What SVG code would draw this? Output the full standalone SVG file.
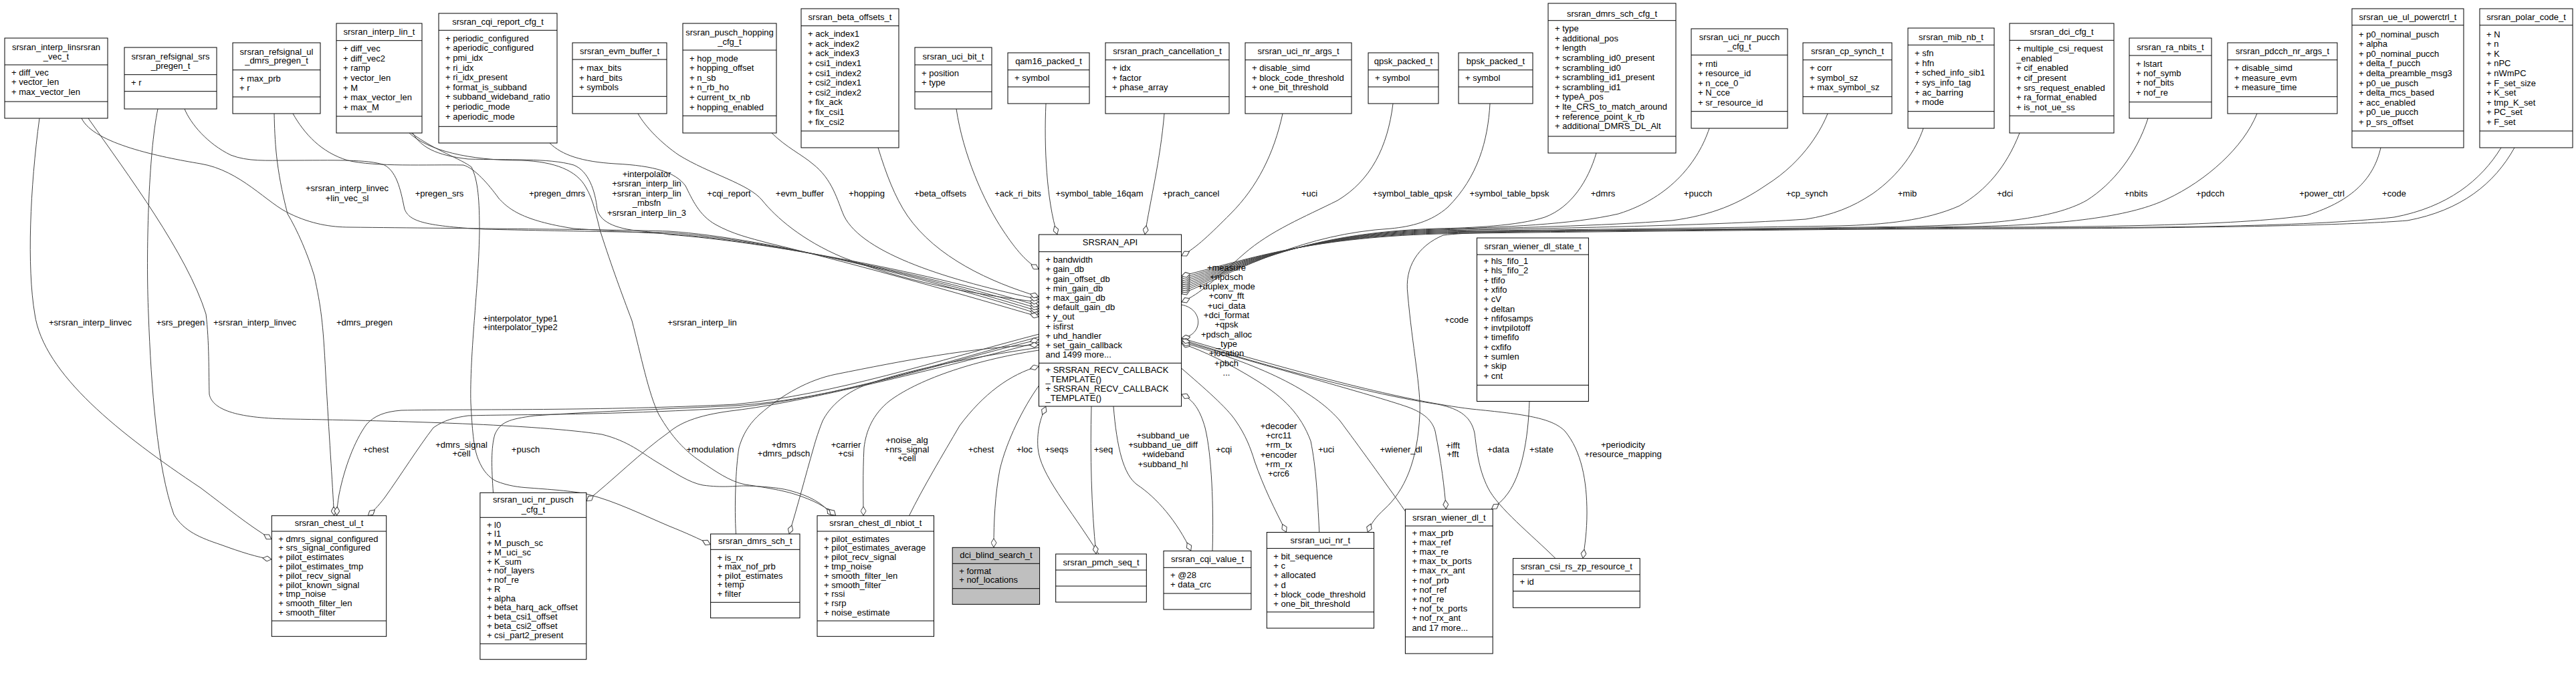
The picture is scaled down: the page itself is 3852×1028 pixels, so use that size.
<svg xmlns="http://www.w3.org/2000/svg" width="3852" height="1028" viewBox="0 0 3852 1028">
<defs>
<style>
text{font-family:"Liberation Sans",Arial,Helvetica,sans-serif;font-size:13px;fill:#000}
.c{text-anchor:middle}
.n rect{fill:#fff;stroke:#000;stroke-width:1}
.n path{fill:none;stroke:#000;stroke-width:1}
#dci_blind_search_t rect{fill:#bfbfbf}
#connectors path{fill:none;stroke:#404040;stroke-width:1}
</style>
<marker id="d" viewBox="0 0 14 9" refX="14" refY="4.5" markerWidth="14" markerHeight="9" markerUnits="userSpaceOnUse" orient="auto"><path d="M0.5,4.5L7,0.5L13.5,4.5L7,8.5Z" fill="#fff" stroke="#404040"/></marker>
</defs>
<rect x="0" y="0" width="3852" height="1028" fill="#fff"/>

<g id="connectors" marker-end="url(#d)">
<path d="M122,177 C140,215 240,235 300,245 C360,255 400,305 434,320 C465,335 495,340 523,340 C700,342 900,343 1000,346 C1150,356 1400,420 1553.5,470"/>
<path d="M276,163 C285,185 310,215 345,232 C370,242 400,240 430,240 C500,240 550,238 575,247 C595,258 600,290 605,313 C612,330 630,338 724,343 C850,346 930,347 1000,348 C1150,358 1400,417 1553.5,466"/>
<path d="M438,170 C455,200 480,228 520,240 C560,250 640,246 693,247 C710,252 730,275 746,297 C760,312 780,330 858,342 C920,346 960,348 1000,350 C1150,360 1400,414 1553.5,462"/>
<path d="M617,199 C630,220 650,232 700,238 C760,240 820,236 858,247 C880,256 890,285 893,313 C897,330 915,342 960,346 C985,348 995,350 1000,351 C1150,362 1400,410 1553.5,458"/>
<path d="M822,214 C840,232 870,242 920,245 C980,248 1010,258 1025,278 C1035,298 1045,322 1070,336 C1095,350 1120,356 1150,364 C1300,400 1450,444 1553.5,474"/>
<path d="M954,170 C965,190 990,215 1015,232 C1060,260 1120,275 1140,300 C1160,325 1200,360 1260,385 C1350,420 1450,440 1553.5,452"/>
<path d="M1154,199 C1175,220 1200,232 1215,245 C1245,268 1252,300 1262,323 C1290,380 1420,420 1553.5,448"/>
<path d="M1313,221 C1325,260 1338,295 1357,323 C1400,385 1480,422 1553.5,444"/>
<path d="M1430,163 C1440,230 1470,300 1500,345 C1520,375 1535,392 1553.5,403"/>
<path d="M1564,155 C1561,220 1565,300 1581,351"/>
<path d="M1741,170 C1735,240 1720,300 1712,351"/>
<path d="M1918,170 C1905,230 1880,280 1840,320 C1810,350 1790,370 1766.6,383"/>
<path d="M2083,155 C2075,220 2050,270 2000,300 C1950,325 1900,345 1860,380 C1820,415 1795,440 1766.6,452"/>
<path d="M2228,155 C2225,210 2210,265 2165,310 C2140,332 2110,339 2080,342 C1950,350 1860,400 1766.6,440"/>
<path d="M2387,229 C2375,270 2350,310 2310,325 C2270,338 2200,341 2150,342 C1950,348 1860,398 1766.6,437"/>
<path d="M2556,192 C2540,240 2500,295 2420,320 C2350,336 2250,340 2150,343 C1950,349 1860,397 1766.6,434"/>
<path d="M2733,170 C2725,190 2700,240 2641,277 C2600,305 2560,322 2500,330 C2400,338 2250,341 2150,344 C1950,350 1860,396 1766.6,431"/>
<path d="M2876,192 C2865,225 2840,262 2800,290 C2770,310 2740,322 2700,328 C2550,338 2300,342 2150,345 C1950,351 1860,395 1766.6,428"/>
<path d="M3020,199 C3000,250 2970,285 2930,308 C2880,330 2820,336 2750,338 C2500,342 2300,344 2150,346 C1950,352 1860,394 1766.6,425"/>
<path d="M3212,177 C3195,230 3160,275 3120,300 C3070,328 2980,336 2850,339 C2600,343 2300,345 2150,347 C1950,353 1860,393 1766.6,422"/>
<path d="M3375,170 C3355,220 3300,270 3240,298 C3190,322 3100,336 2950,339 C2650,343 2300,345 2150,348 C1950,354 1860,392 1766.6,419"/>
<path d="M3560,221 C3550,265 3520,300 3450,322 C3350,338 3100,340 2950,340 C2650,344 2300,346 2150,349 C1950,355 1860,391 1766.6,416"/>
<path d="M3740,221 C3710,270 3660,310 3580,325 C3450,340 3200,341 2950,341 C2650,345 2300,347 2150,350 C1950,356 1860,390 1766.6,413"/>
<path d="M3760,221 C3730,275 3680,315 3600,330 C3450,342 3000,343 2700,343 C2450,344 2220,344 2158,352 C2120,368 2100,400 2105,440 C2112,520 2125,580 2123,620 C2120,690 2100,735 2070,762 C2058,773 2050,783 2045,796.5"/>
<path d="M1766.6,456 C1800,462 1800,502 1766.6,506"/>
<path d="M1553.5,577 C1530,610 1505,660 1495,703 C1488,740 1486,780 1486,819.3"/>
<path d="M1643,829 C1600,760 1555,710 1552,670 C1550,640 1558,622 1564,608"/>
<path d="M1632,608 C1630,680 1632,760 1639,829"/>
<path d="M1665,608 C1670,670 1680,710 1700,725 C1730,745 1760,780 1781,824.4"/>
<path d="M1813,824.4 C1815,760 1812,680 1802,640 C1795,615 1785,598 1766.6,590"/>
<path d="M1766.6,551 C1800,580 1835,610 1848,630 C1862,650 1870,670 1876,690 C1890,730 1905,760 1923.7,796.5"/>
<path d="M1972.8,796.5 C1970,740 1968,700 1960,660 C1945,620 1920,595 1880,570 C1840,545 1800,525 1766.6,514"/>
<path d="M2101.4,765 C2070,720 2030,665 2004,630 C1970,590 1900,550 1766.6,512"/>
<path d="M1766.6,510 C1900,550 2050,590 2105,609 C2130,618 2142,630 2146,645 C2155,690 2160,730 2162.4,762"/>
<path d="M2326,835.6 C2290,800 2240,760 2225,730 C2210,700 2208,670 2205,648 C2200,625 2185,612 2150,605 C2050,590 1900,550 1766.6,508"/>
<path d="M2287,600.5 C2285,660 2275,710 2255,738 C2248,748 2240,755 2230,762"/>
<path d="M1766.6,506 C1950,560 2100,600 2200,612 C2280,620 2320,625 2340,645 C2365,675 2373,720 2373,767 C2373,795 2370,815 2367,835.6"/>
<path d="M59,177 C45,280 40,400 52,470 C65,560 180,650 300,730 C340,760 370,785 406.3,807"/>
<path d="M236,163 C222,230 218,380 222,470 C226,580 235,700 260,770 C275,795 300,805 330,815 C360,826 385,834 406.3,837"/>
<path d="M410,170 C411,210 412,250 430,320 C445,345 460,380 470,413 C480,460 483,480 487,560 C492,650 497,720 499.6,771.7"/>
<path d="M132,177 C190,260 280,380 308,470 C313,510 312,560 313,590 C318,615 360,626 434,627 C600,630 800,635 900,650 C940,660 960,678 980,690 C1010,708 1030,722 1051,726 C1080,730 1100,727 1114,727 C1150,728 1170,731 1181,734 C1210,742 1230,752 1245,771.7"/>
<path d="M612,199 C640,225 700,240 780,240 C830,242 862,255 876,280 C888,300 892,325 898,347 C915,400 930,440 945,480 C958,530 970,590 985,620 C1005,655 1025,675 1047,690 C1070,705 1090,720 1114,725 C1150,730 1175,735 1190,740 C1215,748 1235,758 1250,771.7"/>
<path d="M615,199 C650,225 690,238 705,250 C715,270 717,300 717,347 C716,400 712,440 710,470 C706,520 703,570 704,603 C706,640 708,670 715,687 C722,705 732,715 742,720 C760,727 775,729 791,730 C830,733 860,735 880,740 C920,750 960,770 1000,787 C1025,797 1045,806 1062.6,815"/>
<path d="M1553.5,500 C1400,540 1250,590 1100,605 C900,615 700,612 600,614 C575,616 560,622 548,635 C530,660 515,700 507,740 C505,752 504,760 503.5,771.7"/>
<path d="M1553.5,504 C1400,545 1250,595 1100,610 C900,622 760,620 700,622 C680,625 665,628 648,640 C625,670 600,710 575,745 C565,758 558,765 550,771.7"/>
<path d="M737.5,737.3 C735,700 734,670 740,650 C748,632 760,627 800,622 C900,615 1000,612 1100,607 C1250,597 1400,545 1553.5,508"/>
<path d="M1553.5,512 C1400,552 1200,602 1100,614 C1050,620 1020,630 1000,647 C960,675 915,720 876.8,750"/>
<path d="M1100.5,799 C1098,760 1100,700 1105,670 C1112,645 1125,630 1136,620 C1170,590 1210,568 1250,560 C1350,540 1450,520 1553.5,516"/>
<path d="M1553.5,520 C1450,535 1350,555 1292,577 C1260,590 1240,610 1230,630 C1222,650 1218,665 1216,672 C1205,710 1192,760 1180,799"/>
<path d="M1553.5,524 C1450,540 1370,570 1330,600 C1305,620 1295,645 1292,670 C1290,710 1291,740 1291,771.7"/>
<path d="M1359.5,771.7 C1380,730 1410,680 1435,637 C1470,590 1510,560 1553.5,548"/>
</g>

<g id="edge-labels" class="c">
<text x="519" y="286">+srsran_interp_linvec<tspan x="519" dy="15">+lin_vec_sl</tspan></text>
<text x="657" y="293.5">+pregen_srs</text>
<text x="833" y="293.5">+pregen_dmrs</text>
<text x="967" y="264.5">+interpolator<tspan x="967" dy="14.5">+srsran_interp_lin</tspan><tspan x="967" dy="14.5">+srsran_interp_lin</tspan><tspan x="967" dy="14.5">_mbsfn</tspan><tspan x="967" dy="14.5">+srsran_interp_lin_3</tspan></text>
<text x="1090" y="293.5">+cqi_report</text>
<text x="1196" y="293.5">+evm_buffer</text>
<text x="1296" y="293.5">+hopping</text>
<text x="1406" y="293.5">+beta_offsets</text>
<text x="1522" y="293.5">+ack_ri_bits</text>
<text x="1644" y="293.5">+symbol_table_16qam</text>
<text x="1781" y="293.5">+prach_cancel</text>
<text x="1958" y="293.5">+uci</text>
<text x="2112" y="293.5">+symbol_table_qpsk</text>
<text x="2257" y="293.5">+symbol_table_bpsk</text>
<text x="2397" y="293.5">+dmrs</text>
<text x="2539" y="293.5">+pucch</text>
<text x="2702" y="293.5">+cp_synch</text>
<text x="2852" y="293.5">+mib</text>
<text x="2998" y="293.5">+dci</text>
<text x="3194" y="293.5">+nbits</text>
<text x="3305" y="293.5">+pdcch</text>
<text x="3472" y="293.5">+power_ctrl</text>
<text x="3580" y="293.5">+code</text>
<text x="1834" y="404.5">+measure<tspan x="1834" dy="14.3">+npdsch</tspan><tspan x="1834" dy="14.3">+duplex_mode</tspan><tspan x="1834" dy="14.3">+conv_fft</tspan><tspan x="1834" dy="14.3">+uci_data</tspan><tspan x="1834" dy="14.3">+dci_format</tspan><tspan x="1834" dy="14.3">+qpsk</tspan><tspan x="1834" dy="14.3">+pdsch_alloc</tspan><tspan x="1834" dy="14.3">_type</tspan><tspan x="1834" dy="14.3">+location</tspan><tspan x="1834" dy="14.3">+pbch</tspan><tspan x="1834" dy="14.3">...</tspan></text>
<text x="2178" y="482.5">+code</text>
<text x="135" y="487">+srsran_interp_linvec</text>
<text x="270" y="487">+srs_pregen</text>
<text x="381" y="487">+srsran_interp_linvec</text>
<text x="545" y="487">+dmrs_pregen</text>
<text x="778" y="481">+interpolator_type1<tspan x="778" dy="13">+interpolator_type2</tspan></text>
<text x="1050" y="487">+srsran_interp_lin</text>
<text x="562" y="676.5">+chest</text>
<text x="690" y="670">+dmrs_signal<tspan x="690" dy="13.4">+cell</tspan></text>
<text x="786" y="676.5">+pusch</text>
<text x="1062" y="676.5">+modulation</text>
<text x="1172" y="670">+dmrs<tspan x="1172" dy="13.4">+dmrs_pdsch</tspan></text>
<text x="1265" y="670">+carrier<tspan x="1265" dy="13.4">+csi</tspan></text>
<text x="1356" y="663">+noise_alg<tspan x="1356" dy="13.7">+nrs_signal</tspan><tspan x="1356" dy="13.7">+cell</tspan></text>
<text x="1467" y="676.5">+chest</text>
<text x="1532" y="676.5">+loc</text>
<text x="1580" y="676.5">+seqs</text>
<text x="1650" y="676.5">+seq</text>
<text x="1739" y="656">+subband_ue<tspan x="1739" dy="14.2">+subband_ue_diff</tspan><tspan x="1739" dy="14.2">+wideband</tspan><tspan x="1739" dy="14.2">+subband_hl</tspan></text>
<text x="1830" y="676.5">+cqi</text>
<text x="1912" y="642">+decoder<tspan x="1912" dy="14.2">+crc11</tspan><tspan x="1912" dy="14.2">+rm_tx</tspan><tspan x="1912" dy="14.2">+encoder</tspan><tspan x="1912" dy="14.2">+rm_rx</tspan><tspan x="1912" dy="14.2">+crc6</tspan></text>
<text x="1983" y="676.5">+uci</text>
<text x="2095" y="676.5">+wiener_dl</text>
<text x="2172.5" y="670.5">+ifft<tspan x="2172.5" dy="13.5">+fft</tspan></text>
<text x="2240.5" y="676.5">+data</text>
<text x="2305" y="676.5">+state</text>
<text x="2427" y="670">+periodicity<tspan x="2427" dy="14">+resource_mapping</tspan></text>
</g>

<g id="srsran_interp_linsrsran_vec_t" class="n"><rect x="7" y="57" width="154" height="120"/><path d="M7 97H161M7 152H161"/>
<text class="c" x="84" y="75.2">srsran_interp_linsrsran<tspan x="84" dy="13.6">_vec_t</tspan></text>
<text x="17" y="112.8">+ diff_vec<tspan x="17" dy="14.6">+ vector_len</tspan><tspan x="17" dy="14.6">+ max_vector_len</tspan></text></g>

<g id="srsran_refsignal_srs_pregen_t" class="n"><rect x="186" y="71" width="138" height="92"/><path d="M186 111.7H324M186 136.7H324"/>
<text class="c" x="255" y="88.8">srsran_refsignal_srs<tspan x="255" dy="14.4">_pregen_t</tspan></text>
<text x="196" y="127.8">+ r</text></g>

<g id="srsran_refsignal_ul_dmrs_pregen_t" class="n"><rect x="348" y="64" width="131" height="106"/><path d="M348 104.7H479M348 145H479"/>
<text class="c" x="413.5" y="81.8">srsran_refsignal_ul<tspan x="413.5" dy="13.4">_dmrs_pregen_t</tspan></text>
<text x="358" y="121.8">+ max_prb<tspan x="358" dy="13.7">+ r</tspan></text></g>

<g id="srsran_interp_lin_t" class="n"><rect x="503" y="35" width="128" height="164"/><path d="M503 60.7H631M503 174H631"/>
<text class="c" x="567" y="51.5">srsran_interp_lin_t</text>
<text x="513" y="77.2">+ diff_vec<tspan x="513" dy="14.6">+ diff_vec2</tspan><tspan x="513" dy="14.6">+ ramp</tspan><tspan x="513" dy="14.6">+ vector_len</tspan><tspan x="513" dy="14.6">+ M</tspan><tspan x="513" dy="14.6">+ max_vector_len</tspan><tspan x="513" dy="14.6">+ max_M</tspan></text></g>

<g id="srsran_cqi_report_cfg_t" class="n"><rect x="656" y="20" width="177" height="194"/><path d="M656 45.3H833M656 189.3H833"/>
<text class="c" x="744.5" y="37.2">srsran_cqi_report_cfg_t</text>
<text x="666" y="61.8">+ periodic_configured<tspan x="666" dy="14.6">+ aperiodic_configured</tspan><tspan x="666" dy="14.6">+ pmi_idx</tspan><tspan x="666" dy="14.6">+ ri_idx</tspan><tspan x="666" dy="14.6">+ ri_idx_present</tspan><tspan x="666" dy="14.6">+ format_is_subband</tspan><tspan x="666" dy="14.6">+ subband_wideband_ratio</tspan><tspan x="666" dy="14.6">+ periodic_mode</tspan><tspan x="666" dy="14.6">+ aperiodic_mode</tspan></text></g>

<g id="srsran_evm_buffer_t" class="n"><rect x="856" y="64" width="141" height="106"/><path d="M856 89H997M856 144.3H997"/>
<text class="c" x="926.5" y="81.2">srsran_evm_buffer_t</text>
<text x="866" y="106.2">+ max_bits<tspan x="866" dy="14.6">+ hard_bits</tspan><tspan x="866" dy="14.6">+ symbols</tspan></text></g>

<g id="srsran_pusch_hopping_cfg_t" class="n"><rect x="1021" y="35" width="140" height="164"/><path d="M1021 75H1161M1021 173.3H1161"/>
<text class="c" x="1091" y="52.8">srsran_pusch_hopping<tspan x="1091" dy="14">_cfg_t</tspan></text>
<text x="1031" y="91.5">+ hop_mode<tspan x="1031" dy="14.6">+ hopping_offset</tspan><tspan x="1031" dy="14.6">+ n_sb</tspan><tspan x="1031" dy="14.6">+ n_rb_ho</tspan><tspan x="1031" dy="14.6">+ current_tx_nb</tspan><tspan x="1031" dy="14.6">+ hopping_enabled</tspan></text></g>

<g id="srsran_beta_offsets_t" class="n"><rect x="1198" y="13" width="146" height="208"/><path d="M1198 38.7H1344M1198 196H1344"/>
<text class="c" x="1271" y="29.8">srsran_beta_offsets_t</text>
<text x="1208" y="55.2">+ ack_index1<tspan x="1208" dy="14.6">+ ack_index2</tspan><tspan x="1208" dy="14.6">+ ack_index3</tspan><tspan x="1208" dy="14.6">+ csi1_index1</tspan><tspan x="1208" dy="14.6">+ csi1_index2</tspan><tspan x="1208" dy="14.6">+ csi2_index1</tspan><tspan x="1208" dy="14.6">+ csi2_index2</tspan><tspan x="1208" dy="14.6">+ fix_ack</tspan><tspan x="1208" dy="14.6">+ fix_csi1</tspan><tspan x="1208" dy="14.6">+ fix_csi2</tspan></text></g>

<g id="srsran_uci_bit_t" class="n"><rect x="1368" y="71" width="115" height="92"/><path d="M1368 97H1483M1368 137.3H1483"/>
<text class="c" x="1425.5" y="88.5">srsran_uci_bit_t</text>
<text x="1378" y="113.5">+ position<tspan x="1378" dy="14.6">+ type</tspan></text></g>

<g id="qam16_packed_t" class="n"><rect x="1507" y="79" width="122" height="76"/><path d="M1507 104.7H1629M1507 130H1629"/>
<text class="c" x="1568" y="95.8">qam16_packed_t</text>
<text x="1517" y="120.8">+ symbol</text></g>

<g id="srsran_prach_cancellation_t" class="n"><rect x="1653" y="64" width="185" height="106"/><path d="M1653 89.7H1838M1653 144.7H1838"/>
<text class="c" x="1745.5" y="81.2">srsran_prach_cancellation_t</text>
<text x="1663" y="106.2">+ idx<tspan x="1663" dy="14.6">+ factor</tspan><tspan x="1663" dy="14.6">+ phase_array</tspan></text></g>

<g id="srsran_uci_nr_args_t" class="n"><rect x="1862" y="64" width="159" height="106"/><path d="M1862 89.7H2021M1862 144.7H2021"/>
<text class="c" x="1941.5" y="81.2">srsran_uci_nr_args_t</text>
<text x="1872" y="106.2">+ disable_simd<tspan x="1872" dy="14.6">+ block_code_threshold</tspan><tspan x="1872" dy="14.6">+ one_bit_threshold</tspan></text></g>

<g id="qpsk_packed_t" class="n"><rect x="2046" y="79" width="105" height="76"/><path d="M2046 104.7H2151M2046 130H2151"/>
<text class="c" x="2098.5" y="95.8">qpsk_packed_t</text>
<text x="2056" y="120.8">+ symbol</text></g>

<g id="bpsk_packed_t" class="n"><rect x="2181" y="79" width="111" height="76"/><path d="M2181 104.7H2292M2181 130H2292"/>
<text class="c" x="2236.5" y="95.8">bpsk_packed_t</text>
<text x="2191" y="120.8">+ symbol</text></g>

<g id="srsran_dmrs_sch_cfg_t" class="n"><rect x="2315" y="5" width="191" height="224"/><path d="M2315 30.7H2506M2315 204H2506"/>
<text class="c" x="2410.5" y="24.5">srsran_dmrs_sch_cfg_t</text>
<text x="2325" y="47.2">+ type<tspan x="2325" dy="14.6">+ additional_pos</tspan><tspan x="2325" dy="14.6">+ length</tspan><tspan x="2325" dy="14.6">+ scrambling_id0_present</tspan><tspan x="2325" dy="14.6">+ scrambling_id0</tspan><tspan x="2325" dy="14.6">+ scrambling_id1_present</tspan><tspan x="2325" dy="14.6">+ scrambling_id1</tspan><tspan x="2325" dy="14.6">+ typeA_pos</tspan><tspan x="2325" dy="14.6">+ lte_CRS_to_match_around</tspan><tspan x="2325" dy="14.6">+ reference_point_k_rb</tspan><tspan x="2325" dy="14.6">+ additional_DMRS_DL_Alt</tspan></text></g>

<g id="srsran_uci_nr_pucch_cfg_t" class="n"><rect x="2529" y="43" width="144" height="149"/><path d="M2529 82.3H2673M2529 166.7H2673"/>
<text class="c" x="2601" y="59.5">srsran_uci_nr_pucch<tspan x="2601" dy="14.3">_cfg_t</tspan></text>
<text x="2539" y="99.5">+ rnti<tspan x="2539" dy="14.5">+ resource_id</tspan><tspan x="2539" dy="14.5">+ n_cce_0</tspan><tspan x="2539" dy="14.5">+ N_cce</tspan><tspan x="2539" dy="14.5">+ sr_resource_id</tspan></text></g>

<g id="srsran_cp_synch_t" class="n"><rect x="2696" y="64" width="133" height="106"/><path d="M2696 89.7H2829M2696 144.7H2829"/>
<text class="c" x="2762.5" y="81.2">srsran_cp_synch_t</text>
<text x="2706" y="106.2">+ corr<tspan x="2706" dy="14.6">+ symbol_sz</tspan><tspan x="2706" dy="14.6">+ max_symbol_sz</tspan></text></g>

<g id="srsran_mib_nb_t" class="n"><rect x="2853" y="42" width="129" height="150"/><path d="M2853 67.3H2982M2853 166.7H2982"/>
<text class="c" x="2917.5" y="59.5">srsran_mib_nb_t</text>
<text x="2863" y="84.2">+ sfn<tspan x="2863" dy="14.6">+ hfn</tspan><tspan x="2863" dy="14.6">+ sched_info_sib1</tspan><tspan x="2863" dy="14.6">+ sys_info_tag</tspan><tspan x="2863" dy="14.6">+ ac_barring</tspan><tspan x="2863" dy="14.6">+ mode</tspan></text></g>

<g id="srsran_dci_cfg_t" class="n"><rect x="3005" y="35" width="156" height="164"/><path d="M3005 60.3H3161M3005 173.3H3161"/>
<text class="c" x="3083" y="51.8">srsran_dci_cfg_t</text>
<text x="3015" y="77.2">+ multiple_csi_request<tspan x="3015" dy="14.6">_enabled</tspan><tspan x="3015" dy="14.6">+ cif_enabled</tspan><tspan x="3015" dy="14.6">+ cif_present</tspan><tspan x="3015" dy="14.6">+ srs_request_enabled</tspan><tspan x="3015" dy="14.6">+ ra_format_enabled</tspan><tspan x="3015" dy="14.6">+ is_not_ue_ss</tspan></text></g>

<g id="srsran_ra_nbits_t" class="n"><rect x="3184" y="57" width="123" height="120"/><path d="M3184 83H3307M3184 152.7H3307"/>
<text class="c" x="3245.5" y="75.2">srsran_ra_nbits_t</text>
<text x="3194" y="99.5">+ lstart<tspan x="3194" dy="14.4">+ nof_symb</tspan><tspan x="3194" dy="14.4">+ nof_bits</tspan><tspan x="3194" dy="14.4">+ nof_re</tspan></text></g>

<g id="srsran_pdcch_nr_args_t" class="n"><rect x="3331" y="64" width="164" height="106"/><path d="M3331 89.7H3495M3331 144.7H3495"/>
<text class="c" x="3413" y="81.2">srsran_pdcch_nr_args_t</text>
<text x="3341" y="106.2">+ disable_simd<tspan x="3341" dy="14.6">+ measure_evm</tspan><tspan x="3341" dy="14.6">+ measure_time</tspan></text></g>

<g id="srsran_ue_ul_powerctrl_t" class="n"><rect x="3517" y="13" width="167" height="208"/><path d="M3517 37.7H3684M3517 196H3684"/>
<text class="c" x="3600.5" y="29.8">srsran_ue_ul_powerctrl_t</text>
<text x="3527" y="55.5">+ p0_nominal_pusch<tspan x="3527" dy="14.6">+ alpha</tspan><tspan x="3527" dy="14.6">+ p0_nominal_pucch</tspan><tspan x="3527" dy="14.6">+ delta_f_pucch</tspan><tspan x="3527" dy="14.6">+ delta_preamble_msg3</tspan><tspan x="3527" dy="14.6">+ p0_ue_pusch</tspan><tspan x="3527" dy="14.6">+ delta_mcs_based</tspan><tspan x="3527" dy="14.6">+ acc_enabled</tspan><tspan x="3527" dy="14.6">+ p0_ue_pucch</tspan><tspan x="3527" dy="14.6">+ p_srs_offset</tspan></text></g>

<g id="srsran_polar_code_t" class="n"><rect x="3708" y="13" width="139" height="208"/><path d="M3708 37.7H3847M3708 196H3847"/>
<text class="c" x="3777.5" y="29.8">srsran_polar_code_t</text>
<text x="3718" y="55.5">+ N<tspan x="3718" dy="14.6">+ n</tspan><tspan x="3718" dy="14.6">+ K</tspan><tspan x="3718" dy="14.6">+ nPC</tspan><tspan x="3718" dy="14.6">+ nWmPC</tspan><tspan x="3718" dy="14.6">+ F_set_size</tspan><tspan x="3718" dy="14.6">+ K_set</tspan><tspan x="3718" dy="14.6">+ tmp_K_set</tspan><tspan x="3718" dy="14.6">+ PC_set</tspan><tspan x="3718" dy="14.6">+ F_set</tspan></text></g>

<g id="SRSRAN_API" class="n"><rect x="1553.5" y="351" width="213.1" height="257"/><path d="M1553.5 376.7H1766.6M1553.5 543.3H1766.6"/>
<text class="c" x="1660" y="367.2">SRSRAN_API</text>
<text x="1563.5" y="393.2">+ bandwidth<tspan x="1563.5" dy="14.2">+ gain_db</tspan><tspan x="1563.5" dy="14.2">+ gain_offset_db</tspan><tspan x="1563.5" dy="14.2">+ min_gain_db</tspan><tspan x="1563.5" dy="14.2">+ max_gain_db</tspan><tspan x="1563.5" dy="14.2">+ default_gain_db</tspan><tspan x="1563.5" dy="14.2">+ y_out</tspan><tspan x="1563.5" dy="14.2">+ isfirst</tspan><tspan x="1563.5" dy="14.2">+ uhd_handler</tspan><tspan x="1563.5" dy="14.2">+ set_gain_callback</tspan><tspan x="1563.5" dy="14.2">and 1499 more...</tspan></text>
<text x="1563.5" y="557.5">+ SRSRAN_RECV_CALLBACK<tspan x="1563.5" dy="14">_TEMPLATE()</tspan><tspan x="1563.5" dy="14">+ SRSRAN_RECV_CALLBACK</tspan><tspan x="1563.5" dy="14">_TEMPLATE()</tspan></text></g>

<g id="srsran_wiener_dl_state_t" class="n"><rect x="2208.5" y="356" width="166.9" height="244.5"/><path d="M2208.5 381H2375.4M2208.5 576.3H2375.4"/>
<text class="c" x="2292" y="372.5">srsran_wiener_dl_state_t</text>
<text x="2218.5" y="395">+ hls_fifo_1<tspan x="2218.5" dy="14.3">+ hls_fifo_2</tspan><tspan x="2218.5" dy="14.3">+ tfifo</tspan><tspan x="2218.5" dy="14.3">+ xfifo</tspan><tspan x="2218.5" dy="14.3">+ cV</tspan><tspan x="2218.5" dy="14.3">+ deltan</tspan><tspan x="2218.5" dy="14.3">+ nfifosamps</tspan><tspan x="2218.5" dy="14.3">+ invtpilotoff</tspan><tspan x="2218.5" dy="14.3">+ timefifo</tspan><tspan x="2218.5" dy="14.3">+ cxfifo</tspan><tspan x="2218.5" dy="14.3">+ sumlen</tspan><tspan x="2218.5" dy="14.3">+ skip</tspan><tspan x="2218.5" dy="14.3">+ cnt</tspan></text></g>

<g id="srsran_wiener_dl_t" class="n"><rect x="2101.4" y="762" width="130.8" height="216"/><path d="M2101.4 787H2232.2M2101.4 953H2232.2"/>
<text class="c" x="2166.8" y="779">srsran_wiener_dl_t</text>
<text x="2111.4" y="801.5">+ max_prb<tspan x="2111.4" dy="14.2">+ max_ref</tspan><tspan x="2111.4" dy="14.2">+ max_re</tspan><tspan x="2111.4" dy="14.2">+ max_tx_ports</tspan><tspan x="2111.4" dy="14.2">+ max_rx_ant</tspan><tspan x="2111.4" dy="14.2">+ nof_prb</tspan><tspan x="2111.4" dy="14.2">+ nof_ref</tspan><tspan x="2111.4" dy="14.2">+ nof_re</tspan><tspan x="2111.4" dy="14.2">+ nof_tx_ports</tspan><tspan x="2111.4" dy="14.2">+ nof_rx_ant</tspan><tspan x="2111.4" dy="14.2">and 17 more...</tspan></text></g>

<g id="srsran_csi_rs_zp_resource_t" class="n"><rect x="2262.5" y="835.6" width="189.7" height="73.7"/><path d="M2262.5 859.8H2452.2M2262.5 884.5H2452.2"/>
<text class="c" x="2357.4" y="852">srsran_csi_rs_zp_resource_t</text>
<text x="2272.5" y="875">+ id</text></g>

<g id="srsran_uci_nr_t" class="n"><rect x="1894.3" y="796.5" width="160.2" height="143.5"/><path d="M1894.3 820.6H2054.5M1894.3 915.8H2054.5"/>
<text class="c" x="1974.4" y="812.5">srsran_uci_nr_t</text>
<text x="1904.3" y="836.6">+ bit_sequence<tspan x="1904.3" dy="14.3">+ c</tspan><tspan x="1904.3" dy="14.3">+ allocated</tspan><tspan x="1904.3" dy="14.3">+ d</tspan><tspan x="1904.3" dy="14.3">+ block_code_threshold</tspan><tspan x="1904.3" dy="14.3">+ one_bit_threshold</tspan></text></g>

<g id="srsran_cqi_value_t" class="n"><rect x="1740" y="824.4" width="130.9" height="87.6"/><path d="M1740 849.3H1870.9M1740 888H1870.9"/>
<text class="c" x="1805.5" y="840.5">srsran_cqi_value_t</text>
<text x="1750" y="865">+ @28<tspan x="1750" dy="14">+ data_crc</tspan></text></g>

<g id="srsran_pmch_seq_t" class="n"><rect x="1578.7" y="829" width="135.6" height="72"/><path d="M1578.7 853H1714.3M1578.7 877H1714.3"/>
<text class="c" x="1646.5" y="845.5">srsran_pmch_seq_t</text></g>

<g id="dci_blind_search_t" class="n"><rect x="1424.2" y="819.3" width="130.4" height="85"/><path d="M1424.2 843.3H1554.6M1424.2 880.7H1554.6"/>
<text class="c" x="1489.4" y="835">dci_blind_search_t</text>
<text x="1434.2" y="858.8">+ format<tspan x="1434.2" dy="13.4">+ nof_locations</tspan></text></g>

<g id="srsran_chest_dl_nbiot_t" class="n"><rect x="1222" y="771.7" width="174.5" height="180.6"/><path d="M1222 795H1396.5M1222 929H1396.5"/>
<text class="c" x="1309.3" y="787.2">srsran_chest_dl_nbiot_t</text>
<text x="1232" y="810.5">+ pilot_estimates<tspan x="1232" dy="13.8">+ pilot_estimates_average</tspan><tspan x="1232" dy="13.8">+ pilot_recv_signal</tspan><tspan x="1232" dy="13.8">+ tmp_noise</tspan><tspan x="1232" dy="13.8">+ smooth_filter_len</tspan><tspan x="1232" dy="13.8">+ smooth_filter</tspan><tspan x="1232" dy="13.8">+ rssi</tspan><tspan x="1232" dy="13.8">+ rsrp</tspan><tspan x="1232" dy="13.8">+ noise_estimate</tspan></text></g>

<g id="srsran_dmrs_sch_t" class="n"><rect x="1062.6" y="799" width="133.4" height="125.7"/><path d="M1062.6 822.3H1196M1062.6 901.3H1196"/>
<text class="c" x="1129.3" y="814.2">srsran_dmrs_sch_t</text>
<text x="1072.6" y="838.5">+ is_rx<tspan x="1072.6" dy="13.6">+ max_nof_prb</tspan><tspan x="1072.6" dy="13.6">+ pilot_estimates</tspan><tspan x="1072.6" dy="13.6">+ temp</tspan><tspan x="1072.6" dy="13.6">+ filter</tspan></text></g>

<g id="srsran_chest_ul_t" class="n"><rect x="406.3" y="771.7" width="171.4" height="180.6"/><path d="M406.3 795H577.7M406.3 929H577.7"/>
<text class="c" x="492" y="787.2">srsran_chest_ul_t</text>
<text x="416.3" y="810.5">+ dmrs_signal_configured<tspan x="416.3" dy="13.8">+ srs_signal_configured</tspan><tspan x="416.3" dy="13.8">+ pilot_estimates</tspan><tspan x="416.3" dy="13.8">+ pilot_estimates_tmp</tspan><tspan x="416.3" dy="13.8">+ pilot_recv_signal</tspan><tspan x="416.3" dy="13.8">+ pilot_known_signal</tspan><tspan x="416.3" dy="13.8">+ tmp_noise</tspan><tspan x="416.3" dy="13.8">+ smooth_filter_len</tspan><tspan x="416.3" dy="13.8">+ smooth_filter</tspan></text></g>

<g id="srsran_uci_nr_pusch_cfg_t" class="n"><rect x="717.9" y="737.3" width="158.9" height="249.4"/><path d="M717.9 774.3H876.8M717.9 963.3H876.8"/>
<text class="c" x="797.4" y="752.2">srsran_uci_nr_pusch<tspan x="797.4" dy="14.3">_cfg_t</tspan></text>
<text x="727.9" y="789.5">+ l0<tspan x="727.9" dy="13.75">+ l1</tspan><tspan x="727.9" dy="13.75">+ M_pusch_sc</tspan><tspan x="727.9" dy="13.75">+ M_uci_sc</tspan><tspan x="727.9" dy="13.75">+ K_sum</tspan><tspan x="727.9" dy="13.75">+ nof_layers</tspan><tspan x="727.9" dy="13.75">+ nof_re</tspan><tspan x="727.9" dy="13.75">+ R</tspan><tspan x="727.9" dy="13.75">+ alpha</tspan><tspan x="727.9" dy="13.75">+ beta_harq_ack_offset</tspan><tspan x="727.9" dy="13.75">+ beta_csi1_offset</tspan><tspan x="727.9" dy="13.75">+ beta_csi2_offset</tspan><tspan x="727.9" dy="13.75">+ csi_part2_present</tspan></text></g>
</svg>
